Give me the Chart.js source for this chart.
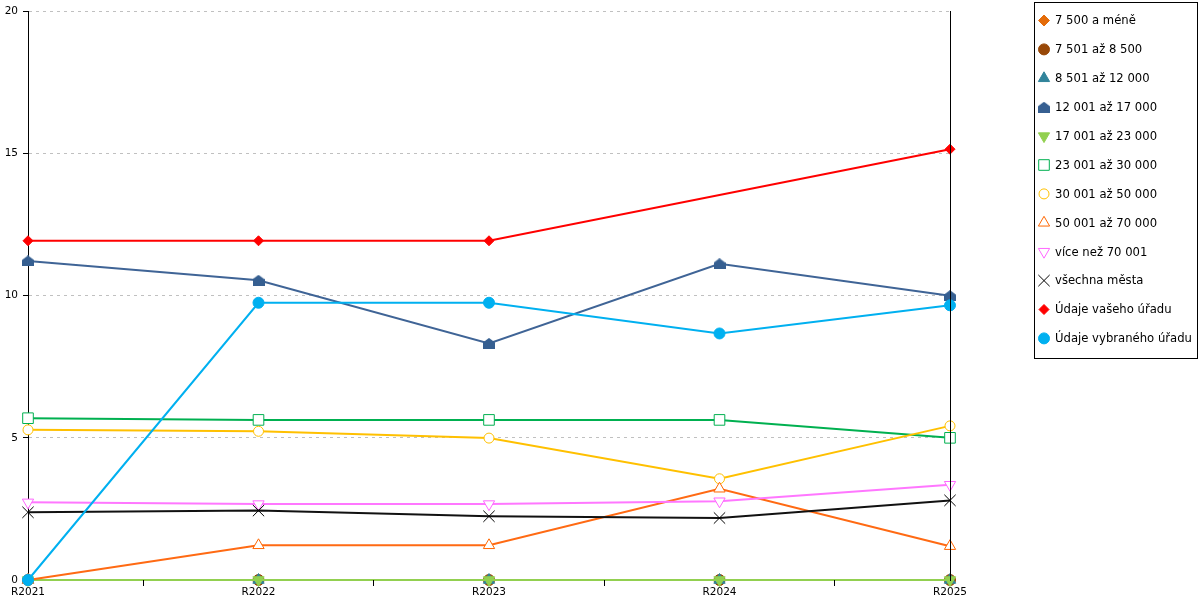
<!DOCTYPE html>
<html>
<head>
<meta charset="utf-8">
<script src="https://cdn.jsdelivr.net/npm/chart.js@4/dist/chart.umd.min.js"></script>
<style>
html,body{margin:0;padding:0;background:#ffffff;}
#wrap{width:1200px;height:600px;position:relative;}
</style>
</head>
<body>
<div id="wrap"><canvas id="c" width="1200" height="600"></canvas></div>
<script>
// ---- data ----
const categories = ['R2021', 'R2022', 'R2023', 'R2024', 'R2025'];
const seriesNames = [
  '7 500 a méně', '7 501 až 8 500', '8 501 až 12 000', '12 001 až 17 000',
  '17 001 až 23 000', '23 001 až 30 000', '30 001 až 50 000', '50 001 až 70 000',
  'více než 70 001', 'všechna města', 'Údaje vašeho úřadu', 'Údaje vybraného úřadu'
];
const s7500 = [0, 0, 0, 0, 0];
const s8500 = [0, 0, 0, 0, 0];
const s12000 = [0, 0, 0, 0, 0];
const s17000 = [11.22, 10.54, 8.32, 11.12, 10.0];
const s23000 = [0, 0, 0, 0, 0];
const s30000 = [5.69, 5.63, 5.63, 5.63, 5.0];
const s50000 = [5.28, 5.23, 4.99, 3.56, 5.42];
const s70000 = [0, 1.22, 1.22, 3.21, 1.19];
const sOver70 = [2.73, 2.67, 2.67, 2.77, 3.35];
const sAll = [2.38, 2.44, 2.24, 2.18, 2.80];
const sYours = [11.93, 11.93, 11.93, null, 15.15];
const sSelected = [0, 9.75, 9.75, 8.67, 9.66];
const yTickValues = [0, 5, 10, 15, 20];

const seriesValues = [s7500, s8500, s12000, s17000, s23000, s30000, s50000, s70000, sOver70, sAll, sYours, sSelected];

const FONT = '"DejaVu Sans", sans-serif';

// ---- styles ----
function makeHouse(color) {
  const c = document.createElement('canvas');
  c.width = 12; c.height = 11;
  const g = c.getContext('2d');
  g.fillStyle = color;
  g.beginPath();
  g.moveTo(6, 0);
  g.lineTo(12, 4.5);
  g.lineTo(12, 11);
  g.lineTo(0, 11);
  g.lineTo(0, 4.5);
  g.closePath();
  g.fill();
  return c;
}
const styles = [
  {color: '#E46C0A', line: '#E46C0A', style: 'rectRot', r: 5.5, fill: true},
  {color: '#984807', line: '#984807', style: 'circle', r: 5.5, fill: true},
  {color: '#31849B', line: '#31849B', style: 'triangle', r: 6.5, fill: true},
  {color: '#365F91', line: '#3F6496', style: 'house', r: 6, fill: true},
  {color: '#92D050', line: '#92D050', style: 'triangle', r: 6.5, fill: true, rot: 180},
  {color: '#00B050', line: '#00B050', style: 'rect', r: 7.5, fill: false},
  {color: '#FFC000', line: '#FFC000', style: 'circle', r: 5, fill: false},
  {color: '#FF6600', line: '#FF6A13', style: 'triangle', r: 6.5, fill: false},
  {color: '#FF66FF', line: '#FF77FF', style: 'triangle', r: 6.5, fill: false, rot: 180},
  {color: '#000000', line: '#111111', style: 'crossRot', r: 8, fill: false},
  {color: '#FF0000', line: '#FF0000', style: 'rectRot', r: 5, fill: true},
  {color: '#00B0F0', line: '#00B0F0', style: 'circle', r: 5.5, fill: true}
];

const N = seriesNames.length;
const datasets = seriesNames.map((name, i) => {
  const st = styles[i];
  const ps = st.style === 'house' ? makeHouse(st.color) : st.style;
  return {
    label: name,
    data: seriesValues[i],
    borderColor: st.line,
    borderWidth: 2,
    backgroundColor: st.color,
    pointStyle: ps,
    pointRotation: st.rot || 0,
    pointRadius: st.r,
    pointHoverRadius: st.r,
    pointBackgroundColor: st.fill ? st.color : '#ffffff',
    pointBorderColor: st.color,
    pointBorderWidth: 1,
    tension: 0,
    spanGaps: true,
    clip: false,
    order: N - 1 - i
  };
});

Chart.defaults.font.family = FONT;
Chart.defaults.color = '#000';

const boxLegend = {
  id: 'boxLegend',
  afterDraw(chart) {
    const ctx = chart.ctx;
    ctx.save();
    ctx.strokeStyle = '#000';
    ctx.lineWidth = 1;
    ctx.setLineDash([]);
    ctx.strokeRect(1034.5, 2.5, 163, 356);
    chart.data.datasets.forEach((d, i) => {
      const y = 20.5 + 28.9 * i;
      const x = 1044;
      ctx.fillStyle = d.pointBackgroundColor;
      ctx.strokeStyle = d.pointBorderColor;
      ctx.lineWidth = d.pointBorderWidth;
      Chart.helpers.drawPoint(ctx, {
        pointStyle: d.pointStyle,
        rotation: d.pointRotation,
        radius: d.pointRadius,
        borderWidth: d.pointBorderWidth
      }, x, y);
      ctx.save();
      ctx.translate(1055, y + 0.5);
      ctx.scale(0.895, 1);
      ctx.fillStyle = '#000';
      ctx.font = '13px ' + FONT;
      ctx.textBaseline = 'middle';
      ctx.textAlign = 'left';
      ctx.fillText(d.label, 0, 0);
      ctx.restore();
    });
    ctx.restore();
  }
};

new Chart(document.getElementById('c'), {
  type: 'line',
  data: {labels: categories, datasets: datasets},
  options: {
    responsive: false,
    animation: false,
    devicePixelRatio: 1,
    layout: {padding: {top: 9, left: 0, right: 0, bottom: 0}},
    plugins: {
      legend: {display: false},
      tooltip: {enabled: false},
      title: {display: false}
    },
    scales: {
      x: {
        type: 'category',
        offset: false,
        grid: {
          display: true, drawOnChartArea: false, drawTicks: true, tickLength: 6,
          offset: true, color: '#000', tickColor: '#000', lineWidth: 1, tickBorderDash: [], z: 1
        },
        border: {display: false},
        ticks: {font: {size: 10.5}, color: '#000', padding: 0, maxRotation: 0, autoSkip: false},
        afterFit(a) { a.height = 20; }
      },
      y: {
        type: 'linear',
        min: 0, max: 20,
        afterBuildTicks(a) { a.ticks = yTickValues.map(v => ({value: v})); },
        ticks: {font: {size: 10.5}, color: '#000', padding: 5},
        grid: {color: '#c0c0c0', tickColor: '#000', tickLength: 5, lineWidth: 1, tickBorderDash: []},
        border: {display: true, color: '#000', width: 1, dash: [3, 4]},
        afterFit(a) { a.width = 28; }
      },
      y2: {
        type: 'linear',
        position: 'right',
        min: 0, max: 20,
        ticks: {display: false},
        grid: {display: true, drawOnChartArea: false, drawTicks: false, color: 'rgba(0,0,0,0)'},
        border: {display: true, color: '#000', width: 1, z: 1},
        afterFit(a) { a.width = 250; }
      }
    }
  },
  plugins: [boxLegend]
});
</script>
</body>
</html>
